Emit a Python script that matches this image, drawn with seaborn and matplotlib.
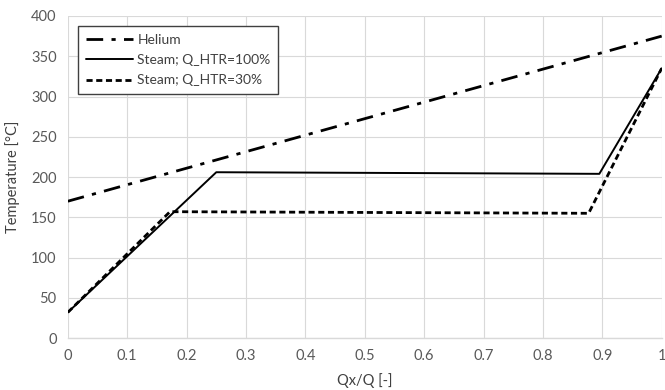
import matplotlib
matplotlib.use("Agg")
import matplotlib.pyplot as plt
import seaborn as sns
import pandas as pd

# ------------------------------------------
# Data
# ------------------------------------------

helium_x = [0.0, 1.0]
helium_t = [170, 375]

steam100_x = [0.0, 0.25, 0.895, 1.0]
steam100_t = [32, 206, 204, 335]

steam30_x = [0.0, 0.172, 0.877, 1.0]
steam30_t = [32, 157, 155, 335]

x_ticks = [0, 0.1, 0.2, 0.3, 0.4, 0.5, 0.6, 0.7, 0.8, 0.9, 1]
x_tick_labels = ["0", "0.1", "0.2", "0.3", "0.4", "0.5", "0.6", "0.7", "0.8", "0.9", "1"]
y_ticks = [0, 50, 100, 150, 200, 250, 300, 350, 400]

# ------------------------------------------
# Plot
# ------------------------------------------

sns.set_theme(style="whitegrid")
plt.rcParams["font.family"] = ["Lato", "DejaVu Sans"]

fig = plt.figure(figsize=(6.65, 3.9), dpi=100)
ax = fig.add_axes([0.102, 0.133, 0.893, 0.826])

helium = pd.DataFrame({"x": helium_x, "t": helium_t})
steam100 = pd.DataFrame({"x": steam100_x, "t": steam100_t})
steam30 = pd.DataFrame({"x": steam30_x, "t": steam30_t})

sns.lineplot(data=steam30, x="x", y="t", ax=ax, color="black", linewidth=2.0,
             label="Steam; Q_HTR=30%")
ax.lines[-1].set_dashes([2.2, 1.3])

sns.lineplot(data=steam100, x="x", y="t", ax=ax, color="black", linewidth=1.4,
             label="Steam; Q_HTR=100%")

sns.lineplot(data=helium, x="x", y="t", ax=ax, color="black", linewidth=2.0,
             label="Helium")
ax.lines[-1].set_dashes([6, 3, 1.5, 3])

ax.set_xlim(0, 1)
ax.set_ylim(0, 400)
ax.set_xticks(x_ticks)
ax.set_xticklabels(x_tick_labels)
ax.set_yticks(y_ticks)

ax.grid(True, color="#d9d9d9", linewidth=0.8)
for side in ["left", "right", "top"]:
    ax.spines[side].set_visible(False)
ax.spines["bottom"].set_color("#d9d9d9")
ax.spines["bottom"].set_linewidth(1.0)

ax.tick_params(axis="both", labelsize=10.5, colors="#595959", length=0, pad=8)
ax.set_xlabel("Qx/Q [-]", fontsize=10.5, color="#404040", labelpad=7)
ax.set_ylabel("Temperature [°C]", fontsize=10.5, color="#404040", labelpad=8)

# legend in the reference's order: Helium, 100%, 30%
handles, labels = ax.get_legend_handles_labels()
order = [2, 1, 0]
leg = ax.legend([handles[i] for i in order], [labels[i] for i in order],
                loc="upper left", bbox_to_anchor=(0.006, 0.99), fontsize=10,
                frameon=True, fancybox=False, handlelength=3.4,
                handletextpad=0.3, borderpad=0.55, labelspacing=0.6)
leg.get_frame().set_edgecolor("#404040")
leg.get_frame().set_linewidth(1.0)
leg.get_frame().set_alpha(1)
for text in leg.get_texts():
    text.set_color("#404040")

fig.savefig("out.png", dpi=100)
